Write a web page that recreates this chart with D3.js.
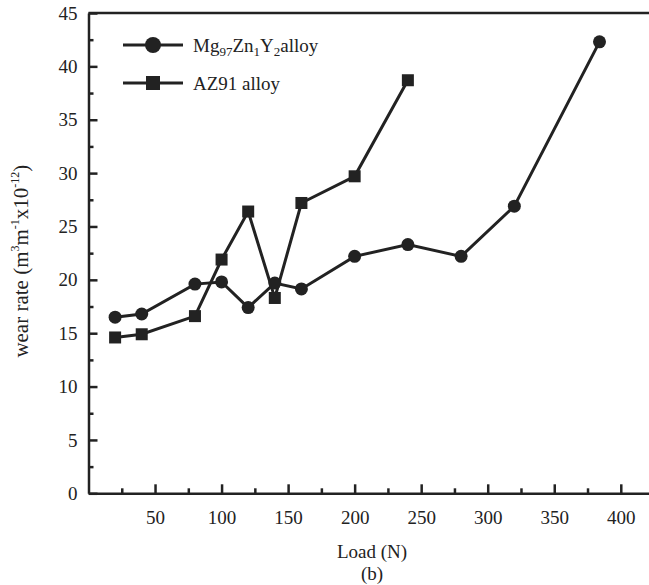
<!DOCTYPE html>
<html>
<head>
<meta charset="utf-8">
<script src="https://cdn.jsdelivr.net/npm/d3@7"></script>
<style>
  body { margin: 0; background: #fff; }
  svg text { font-family: "Liberation Serif", "DejaVu Serif", serif !important; fill: #222; }
</style>
</head>
<body>
<div class="chart"></div>
<script>
// data
const mgLoad = [20, 40, 80, 100, 120, 140, 160, 200, 240, 280, 320, 384];
const mgWear = [16.5, 16.8, 19.6, 19.8, 17.4, 19.7, 19.15, 22.2, 23.3, 22.2, 26.9, 42.3];
const azLoad = [20, 40, 80, 100, 120, 140, 160, 200, 240];
const azWear = [14.6, 14.9, 16.6, 21.9, 26.4, 18.3, 27.2, 29.7, 38.7];
const xTicks = [50, 100, 150, 200, 250, 300, 350, 400];
const xMinor = [25, 75, 125, 175, 225, 275, 325, 375, 425];
const yTicks = [0, 5, 10, 15, 20, 25, 30, 35, 40, 45];
const yMinor = [2.5, 7.5, 12.5, 17.5, 22.5, 27.5, 32.5, 37.5, 42.5];

const W = 649, H = 585;
const ink = "#222";

const svg = d3.select('.chart')
    .append('svg')
    .attr("width", W)
    .attr("height", H);

const xScale = d3.scaleLinear().domain([0, 421.2]).range([88.5, W]);
const yScale = d3.scaleLinear().domain([0, 45]).range([493.3, 13]);

// minor ticks first (no labels)
svg.append("g")
    .attr("transform", `translate(0,${yScale(0)})`)
    .call(d3.axisBottom(xScale).tickValues(xMinor).tickSize(-5).tickFormat(""))
    .call(g => g.select(".domain").remove());
svg.append("g")
    .attr("transform", `translate(${xScale(0)},0)`)
    .call(d3.axisLeft(yScale).tickValues(yMinor).tickSize(-5).tickFormat(""))
    .call(g => g.select(".domain").remove());

// major axes
svg.append("g")
    .attr("transform", `translate(0,${yScale(0)})`)
    .call(d3.axisBottom(xScale).tickValues(xTicks).tickSizeInner(-9).tickSizeOuter(0).tickPadding(17));
svg.append("g")
    .attr("transform", `translate(${xScale(0)},0)`)
    .call(d3.axisLeft(yScale).tickValues(yTicks).tickSizeInner(-9).tickSizeOuter(0).tickPadding(11));

svg.selectAll("g").attr("font-family", null);
svg.selectAll(".tick line").attr("stroke", ink).attr("stroke-width", 2.5);
svg.selectAll(".domain").attr("stroke", ink).attr("stroke-width", 2.5);
svg.selectAll(".tick text").attr("font-size", 19).attr("fill", ink);

// top frame line
svg.append("line")
    .attr("x1", xScale(0)).attr("x2", W)
    .attr("y1", yScale(45)).attr("y2", yScale(45))
    .attr("stroke", ink).attr("stroke-width", 2.5);

const line = d3.line().x(d => xScale(d[0])).y(d => yScale(d[1]));
const mg = mgLoad.map((v, i) => [v, mgWear[i]]);
const az = azLoad.map((v, i) => [v, azWear[i]]);

svg.append("path").datum(mg).attr("d", line)
    .attr("fill", "none").attr("stroke", ink).attr("stroke-width", 3);
svg.append("path").datum(az).attr("d", line)
    .attr("fill", "none").attr("stroke", ink).attr("stroke-width", 3);

svg.selectAll("circle.mg")
    .data(mg)
    .enter()
    .append("circle")
    .attr("cx", d => xScale(d[0]))
    .attr("cy", d => yScale(d[1]))
    .attr("r", 6.5)
    .attr("fill", ink);

svg.selectAll("rect.az")
    .data(az)
    .enter()
    .append("rect")
    .attr("x", d => xScale(d[0]) - 6)
    .attr("y", d => yScale(d[1]) - 6)
    .attr("width", 12)
    .attr("height", 12)
    .attr("fill", ink);

// legend
const leg = svg.append("g");
leg.append("line").attr("x1", 123).attr("x2", 183).attr("y1", 45).attr("y2", 45)
    .attr("stroke", ink).attr("stroke-width", 3);
leg.append("circle").attr("cx", 153).attr("cy", 45).attr("r", 8).attr("fill", ink);
leg.append("line").attr("x1", 123).attr("x2", 183).attr("y1", 83).attr("y2", 83)
    .attr("stroke", ink).attr("stroke-width", 3);
leg.append("rect").attr("x", 146).attr("y", 76).attr("width", 14).attr("height", 14).attr("fill", ink);

const t1 = leg.append("text").attr("x", 193).attr("y", 52).attr("font-size", 19);
t1.append("tspan").text("Mg");
t1.append("tspan").text("97").attr("font-size", 13).attr("dy", 4);
t1.append("tspan").text("Zn").attr("dy", -4);
t1.append("tspan").text("1").attr("font-size", 13).attr("dy", 4);
t1.append("tspan").text("Y").attr("dy", -4);
t1.append("tspan").text("2").attr("font-size", 13).attr("dy", 4);
t1.append("tspan").text("alloy").attr("dy", -4);

leg.append("text").attr("x", 193).attr("y", 90).attr("font-size", 19).text("AZ91 alloy");

// axis titles
svg.append("text").attr("x", 372).attr("y", 558).attr("text-anchor", "middle")
    .attr("font-size", 19).text("Load (N)");
svg.append("text").attr("x", 372).attr("y", 580).attr("text-anchor", "middle")
    .attr("font-size", 19).text("(b)");

const yl = svg.append("text")
    .attr("transform", `translate(28,${(yScale(0) + yScale(45)) / 2 + 8}) rotate(-90)`)
    .attr("text-anchor", "middle").attr("font-size", 21);
yl.append("tspan").text("wear rate (m");
yl.append("tspan").text("3").attr("font-size", 12).attr("dy", -9);
yl.append("tspan").text("m").attr("dy", 9);
yl.append("tspan").text("-1").attr("font-size", 12).attr("dy", -9);
yl.append("tspan").text("x10").attr("dy", 9);
yl.append("tspan").text("-12").attr("font-size", 12).attr("dy", -9);
yl.append("tspan").text(")").attr("dy", 9);
</script>
</body>
</html>
